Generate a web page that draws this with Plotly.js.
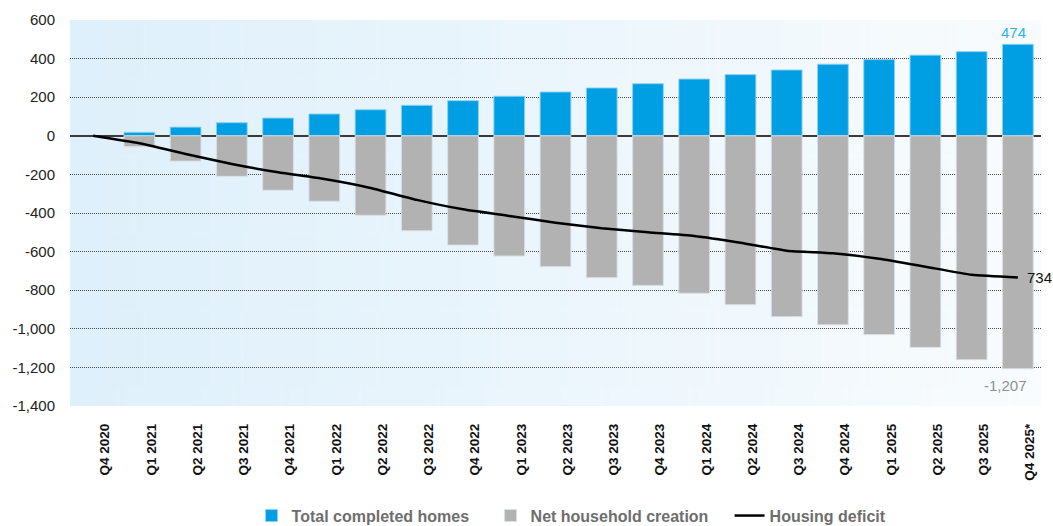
<!DOCTYPE html>
<html>
<head>
<meta charset="utf-8">
<script src="https://cdn.plot.ly/plotly-3.0.1.min.js"></script>
<style>html,body{margin:0;padding:0;background:#fff;}#chart{width:1053px;height:526px;}</style>
</head>
<body>
<div id="chart"></div>
<script>
// ---- data ----
var categories = ['Q4 2020','Q1 2021','Q2 2021','Q3 2021','Q4 2021','Q1 2022','Q2 2022','Q3 2022','Q4 2022',
  'Q1 2023','Q2 2023','Q3 2023','Q4 2023','Q1 2024','Q2 2024','Q3 2024','Q4 2024','Q1 2025','Q2 2025','Q3 2025','Q4 2025*'];
var completedHomes = [null,18,45,68,92,113,135,158,182,205,227,248,270,294,317,341,371,395,418,436,474];
var householdCreation = [null,-56,-131,-210,-282,-339,-412,-492,-566,-623,-678,-735,-775,-816,-875,-937,-979,-1030,-1096,-1160,-1207];
var housingDeficit = [0,-39,-94,-146,-189,-224,-270,-332,-381,-415,-450,-479,-500,-519,-554,-595,-609,-637,-678,-720,-734];
var yTickVals = [600,400,200,0,-200,-400,-600,-800,-1000,-1200,-1400];
var yTickText = ['600','400','200','0','-200','-400','-600','-800','-1,000','-1,200','-1,400'];

// gradient background image
function gradientImage(){
  var c = document.createElement('canvas');
  c.width = 400; c.height = 10;
  var ctx = c.getContext('2d');
  var g = ctx.createLinearGradient(0,0,400,0);
  g.addColorStop(0,'rgb(222,240,251)');
  g.addColorStop(1,'rgb(249,252,254)');
  ctx.fillStyle = g; ctx.fillRect(0,0,400,10);
  return c.toDataURL('image/png');
}

var n = categories.length;
var last = categories[n-1];

var traces = [
  {type:'bar', name:'Total completed homes', x:categories, y:completedHomes,
   marker:{color:'#009fe3', line:{color:'rgba(140,210,240,0.9)', width:1}}, hoverinfo:'x+y'},
  {type:'bar', name:'Net household creation', x:categories, y:householdCreation,
   marker:{color:'#b2b2b2', line:{color:'rgba(215,225,232,0.9)', width:1}}, hoverinfo:'x+y'},
  {type:'scatter', mode:'lines', name:'Housing deficit', x:categories, y:housingDeficit,
   line:{color:'#000000', width:2.5, shape:'spline', smoothing:0.5}}
];

var layout = {
  width:1053, height:526,
  margin:{l:70, r:12, t:20, b:120, autoexpand:false},
  paper_bgcolor:'#ffffff',
  plot_bgcolor:'rgba(0,0,0,0)',
  font:{family:'Liberation Sans, Arial, sans-serif', size:14, color:'#222'},
  barmode:'relative',
  bargap:0.335,
  showlegend:true,
  legend:{orientation:'h', x:0.187, xanchor:'left', y:-0.24, yanchor:'top',
    font:{family:'Liberation Sans, Arial, sans-serif', size:16, color:'#6e6e6e', weight:'bold'},
    traceorder:'normal', itemwidth:30, entrywidth:194, entrywidthmode:'pixels'},
  xaxis:{type:'category', range:[-0.5, n-0.5], tickangle:-90, showgrid:false, zeroline:false,
    showline:false, ticks:'', ticklabelstandoff:14, ticklabelshift:12, automargin:false,
    tickfont:{family:'Liberation Sans, Arial, sans-serif', size:13.5, color:'#111', weight:'bold'}},
  yaxis:{range:[-1400, 600], tickmode:'array', tickvals:yTickVals, ticktext:yTickText,
    showgrid:true, gridcolor:'#4a4a4a', griddash:'1px,1px', gridwidth:1,
    zeroline:true, zerolinecolor:'#3a3a3a', zerolinewidth:1.5, automargin:false,
    showline:false, ticks:'', ticklabelstandoff:14,
    tickfont:{family:'Liberation Sans, Arial, sans-serif', size:15, color:'#222'}},
  images:[{source:gradientImage(), xref:'paper', yref:'paper', x:0, y:1, sizex:1, sizey:1,
    sizing:'stretch', xanchor:'left', yanchor:'top', layer:'below'}],
  annotations:[
    {x:last, y:completedHomes[n-1], xref:'x', yref:'y', text:'474', showarrow:false,
     yanchor:'bottom', yshift:1, xshift:-4, font:{size:15, color:'#2bb3ea'}},
    {x:last, y:householdCreation[n-1], xref:'x', yref:'y', text:'-1,207', showarrow:false,
     yanchor:'top', yshift:-6, xshift:-12, font:{size:15, color:'#8f8f8f'}},
    {x:last, y:housingDeficit[n-1], xref:'x', yref:'y', text:'734', showarrow:false,
     xanchor:'left', xshift:7, font:{size:15, color:'#111'}}
  ]
};

Plotly.newPlot('chart', traces, layout, {displayModeBar:false, responsive:false});
</script>
</body>
</html>
